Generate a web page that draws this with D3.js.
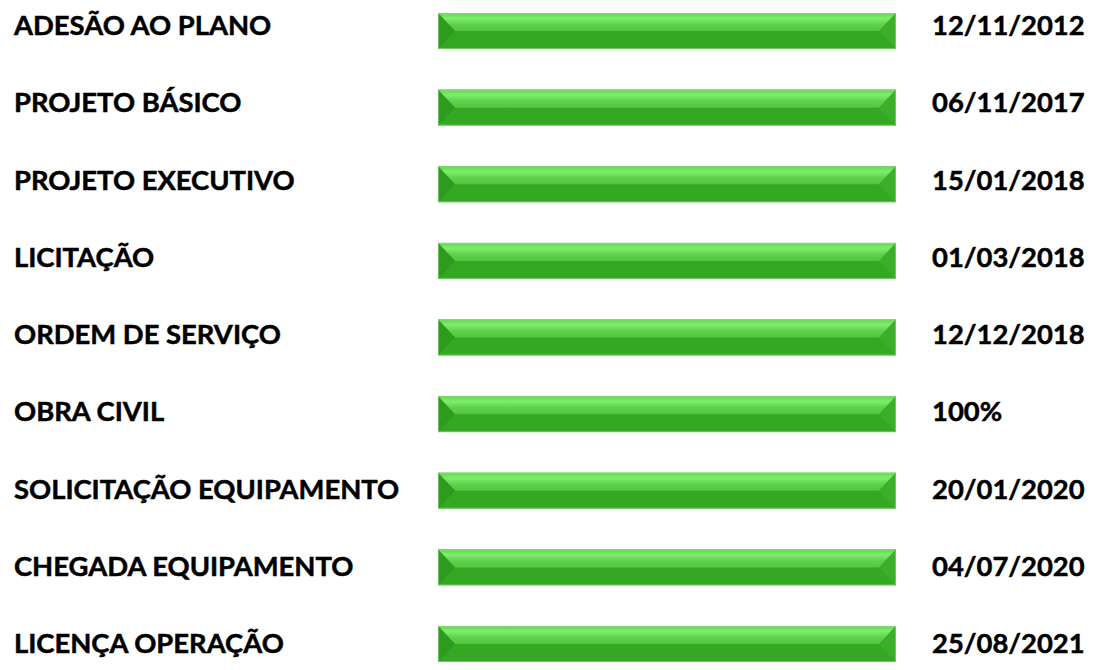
<!DOCTYPE html>
<html>
<head>
<meta charset="utf-8">
<script src="https://cdn.jsdelivr.net/npm/d3@7"></script>
<style>
  body { margin: 0; background: #fff; }
  .label { font-family: Lato, sans-serif; font-weight: bold; font-size: 27.4px; fill: #000;
           stroke: #000; stroke-width: 0.5px; }
</style>
</head>
<body>
<svg class="chart" width="1100" height="670"></svg>
<script>
  const etapas = ['ADESÃO AO PLANO', 'PROJETO BÁSICO', 'PROJETO EXECUTIVO', 'LICITAÇÃO',
    'ORDEM DE SERVIÇO', 'OBRA CIVIL', 'SOLICITAÇÃO EQUIPAMENTO', 'CHEGADA EQUIPAMENTO', 'LICENÇA OPERAÇÃO'];
  const progresso = [100, 100, 100, 100, 100, 100, 100, 100, 100];
  const datas = ['12/11/2012', '06/11/2017', '15/01/2018', '01/03/2018', '12/12/2018',
    '100%', '20/01/2020', '04/07/2020', '25/08/2021'];

  const svg = d3.select('.chart');
  const defs = svg.append('defs');
  const gTop = defs.append('linearGradient').attr('id', 'gTop')
    .attr('x1', 0).attr('y1', 0).attr('x2', 0).attr('y2', 1);
  [['0%', '#64d651'], ['30%', '#7eed6c'], ['65%', '#5dd149'], ['100%', '#52c640']]
    .forEach(s => gTop.append('stop').attr('offset', s[0]).attr('stop-color', s[1]));

  const xScale = d3.scaleLinear().domain([0, 100]).range([438, 896]);
  // top edge of each bar
  const yScale = d3.scalePoint().domain(etapas).range([13, 626]);
  // text baselines
  const yText = d3.scalePoint().domain(etapas).range([35, 653]);

  const bh = 36;
  const bev = 17;

  const bars = svg.selectAll('g.bar').data(etapas).enter().append('g')
    .attr('class', 'bar')
    .attr('transform', d => `translate(0,${yScale(d)})`);

  bars.each(function (d, i) {
    const g = d3.select(this);
    const x0 = xScale(0), x1 = xScale(progresso[i]);
    const m = bh / 2;
    // bottom face
    g.append('rect').attr('x', x0).attr('y', 0).attr('width', x1 - x0).attr('height', bh)
      .attr('fill', '#34a822');
    // top face
    g.append('path').attr('d', `M${x0},0L${x1},0L${x1 - bev},${m}L${x0 + bev},${m}Z`)
      .attr('fill', 'url(#gTop)');
    // left bevel
    g.append('path').attr('d', `M${x0},0L${x0 + bev},${m}L${x0},${bh}Z`).attr('fill', '#2f9a21');
    // right bevel
    g.append('path').attr('d', `M${x1},0L${x1 - bev},${m}L${x1},${bh}Z`).attr('fill', '#3cae2b');
    g.append('rect').attr('x', x0 + 0.5).attr('y', 0.5).attr('width', x1 - x0 - 1).attr('height', bh - 1)
      .attr('fill', 'none').attr('stroke', '#8fdc80').attr('stroke-width', 1).attr('opacity', 0.6);
  });

  svg.selectAll('text.etapa').data(etapas).enter().append('text')
    .attr('class', 'label etapa')
    .attr('x', 14)
    .attr('y', d => yText(d))
    .text(d => d);

  svg.selectAll('text.data').data(datas).enter().append('text')
    .attr('class', 'label data')
    .attr('x', 932)
    .attr('y', (d, i) => yText(etapas[i]))
    .text(d => d);
</script>
</body>
</html>
